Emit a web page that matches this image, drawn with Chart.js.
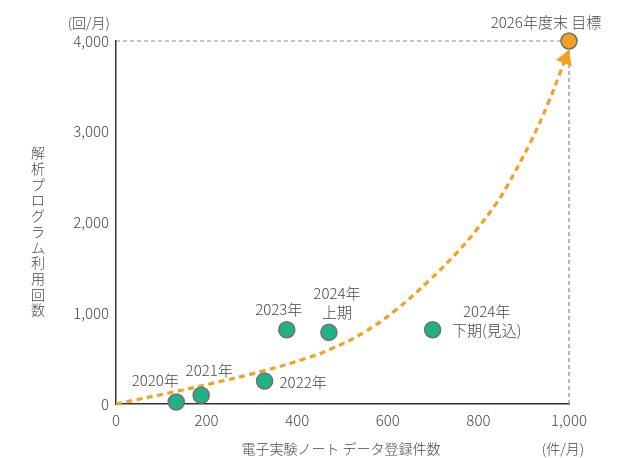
<!DOCTYPE html>
<html><head><meta charset="utf-8">
<script src="https://cdn.jsdelivr.net/npm/chart.js@4"></script>
<style>html,body{margin:0;padding:0;background:#fff}#wrap{width:639px;height:458px;position:relative}</style>
</head><body><div id="wrap"><canvas id="c" width="639" height="458"></canvas></div>
<script>
// ---- data ----
const pointLabels = ['2020年', '2021年', '2022年', '2023年', '2024年\n上期', '2024年\n下期(見込)'];
const registrations = [133, 188, 328, 377, 470, 699];   // 件/月
const usageCounts = [22, 96, 254, 819, 789, 819];        // 回/月
const targetLabel = '2026年度末 目標';
const targetX = [1000];
const targetY = [4000];
const trendX = [0, 134, 210, 322, 421, 472, 546, 619, 693, 752, 796, 840, 862, 914, 954, 980, 999];
const trendY = [0, 140, 225, 360, 505, 600, 785, 1040, 1370, 1665, 1920, 2214, 2390, 2874, 3315, 3645, 3890];
const xTicks = [0, 200, 400, 600, 800, 1000];
const yTicks = [0, 1000, 2000, 3000, 4000];
const xTitle = '電子実験ノート データ登録件数';
const yTitle = '解析プログラム利用回数';
const xUnit = '(件/月)';
const yUnit = '(回/月)';

// ---- styling / label placement (not data) ----
const FONT = '"Noto Sans CJK JP", "Noto Sans", sans-serif';
const TXT = '#474747';
const labelPlace = [
  {dx: -21, dy: -22, align: 'center'},
  {dx: 8, dy: -25, align: 'center'},
  {dx: 15, dy: 1, align: 'left'},
  {dx: -8, dy: -20, align: 'center'},
  {dx: 8, dy: -39, align: 'center'},
  {dx: 54, dy: -18, align: 'center'}
];
const targetPlace = {dx: -23, dy: -19, align: 'center'};

const pts = registrations.map((x, i) => ({x, y: usageCounts[i]}));
const tgt = targetX.map((x, i) => ({x, y: targetY[i]}));
const trend = trendX.map((x, i) => ({x, y: trendY[i]}));
const guide = [{x: xTicks[0], y: targetY[0]}, {x: targetX[0], y: targetY[0]}, {x: targetX[0], y: yTicks[0]}];

const extras = {
  id: 'extras',
  afterDatasetsDraw(chart) {
    const ctx = chart.ctx;
    // arrow head on trend
    const meta = chart.getDatasetMeta(2);
    const el = meta.data[meta.data.length - 1];
    const prev = meta.data[meta.data.length - 2];
    let bx = el.cp1x, by = el.cp1y;
    if (bx === undefined || (Math.abs(bx - el.x) < 0.5 && Math.abs(by - el.y) < 0.5)) { bx = prev.x; by = prev.y; }
    const ang = Math.atan2(el.y - by, el.x - bx);
    ctx.save();
    ctx.translate(el.x, el.y);
    ctx.rotate(ang);
    ctx.beginPath();
    ctx.moveTo(1, 0);
    ctx.lineTo(-13, -8.5);
    ctx.lineTo(-13, 8.5);
    ctx.closePath();
    ctx.fillStyle = '#f5a020';
    ctx.fill();
    ctx.restore();

    // point labels
    ctx.save();
    ctx.font = '300 15px ' + FONT;
    ctx.fillStyle = TXT;
    ctx.textBaseline = 'middle';
    const pm = chart.getDatasetMeta(0);
    pm.data.forEach((p, i) => {
      const pl = labelPlace[i];
      ctx.textAlign = pl.align;
      pointLabels[i].split('\n').forEach((line, j) => {
        ctx.fillText(line, p.x + pl.dx, p.y + pl.dy + j * 18.5);
      });
    });
    const tm = chart.getDatasetMeta(1).data[0];
    ctx.textAlign = targetPlace.align;
    ctx.fillText(targetLabel, tm.x + targetPlace.dx, tm.y + targetPlace.dy);
    ctx.restore();
  },
  afterDraw(chart) {
    const ctx = chart.ctx;
    const ca = chart.chartArea;
    ctx.save();
    ctx.fillStyle = TXT;
    ctx.font = '300 14px ' + FONT;
    ctx.textBaseline = 'middle';
    ctx.textAlign = 'right';
    ctx.fillText(yUnit, ca.left - 6, ca.top - 18);
    ctx.textAlign = 'center';
    ctx.fillText(xUnit, ca.right - 6, 449);
    ctx.fillText(xTitle, ca.left + 225, 449);
    // vertical title
    const chars = Array.from(yTitle);
    chars.forEach((ch, i) => ctx.fillText(ch, 38, 153 + i * 15.7));
    ctx.restore();
  }
};

new Chart(document.getElementById('c'), {
  type: 'scatter',
  data: {
    datasets: [
      {label: 'actual', data: pts, order: 0, clip: false, pointRadius: 8, pointHoverRadius: 8,
       pointBackgroundColor: '#1fb283', pointBorderColor: '#72707f', pointBorderWidth: 1.6, showLine: false},
      {label: 'target', data: tgt, order: 1, clip: false, pointRadius: 8, pointHoverRadius: 8,
       pointBackgroundColor: '#f5a020', pointBorderColor: '#72707f', pointBorderWidth: 1.6, showLine: false},
      {label: 'trend', data: trend, order: 2, clip: false, showLine: true, pointRadius: 0,
       borderColor: '#f5a020', borderWidth: 3.2, borderDash: [6, 4.5], tension: 0.4, fill: false},
      {label: 'guide', data: guide, order: 3, clip: false, showLine: true, pointRadius: 0, tension: 0,
       borderColor: '#8a8a94', borderWidth: 1.2, borderDash: [4, 3], fill: false}
    ]
  },
  options: {
    responsive: false,
    animation: false,
    events: [],
    layout: {padding: {top: 41, right: 70, left: 0, bottom: 0}},
    plugins: {legend: {display: false}, tooltip: {enabled: false}},
    scales: {
      x: {
        type: 'linear', min: xTicks[0], max: xTicks[xTicks.length - 1],
        afterBuildTicks: s => { s.ticks = xTicks.map(v => ({value: v})); },
        afterFit: s => { s.height = 54; },
        grid: {display: false, drawTicks: false},
        border: {display: true, color: '#333', width: 1.5},
        ticks: {padding: 7, color: TXT, font: {family: FONT, size: 15, weight: '300'},
                callback: v => v.toLocaleString('en-US'), maxRotation: 0}
      },
      y: {
        type: 'linear', min: yTicks[0], max: yTicks[yTicks.length - 1],
        afterBuildTicks: s => { s.ticks = yTicks.map(v => ({value: v})); },
        afterFit: s => { s.width = 116; },
        grid: {display: false, drawTicks: false},
        border: {display: true, color: '#333', width: 1.5},
        ticks: {padding: 7, color: TXT, font: {family: FONT, size: 15, weight: '300'},
                callback: v => v.toLocaleString('en-US')}
      }
    }
  },
  plugins: [extras]
});
</script></body></html>
